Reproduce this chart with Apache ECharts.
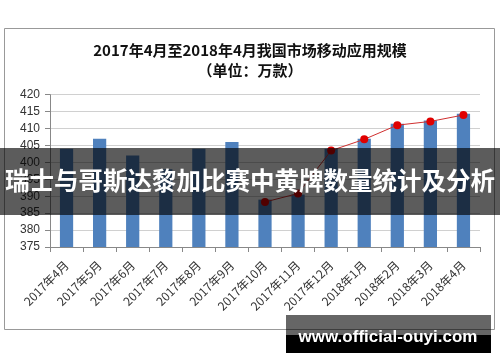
<!DOCTYPE html>
<html>
<head>
<meta charset="utf-8">
<script src="https://cdn.jsdelivr.net/npm/echarts@6/dist/echarts.min.js"></script>
<style>html,body{margin:0;padding:0;background:#fff;}#c{width:500px;height:362px;}</style>
</head>
<body>
<div id="c"></div>
<script>
const categories = ['2017年4月','2017年5月','2017年6月','2017年7月','2017年8月','2017年9月','2017年10月','2017年11月','2017年12月','2018年1月','2018年2月','2018年3月','2018年4月'];
const barValues = [404, 407, 402, 398, 404, 406, 389, 390.5, 404, 407, 411.4, 412.4, 414.4];
const lineValues = [null, null, null, null, null, null, 388.3, 390.8, 403.5, 406.8, 411, 412.1, 414];
const yTicks = {min: 375, max: 420, interval: 5};
const titleText = '2017年4月至2018年4月我国市场移动应用规模';
const subTitleText = '（单位：万款）';
const bannerText = '瑞士与哥斯达黎加比赛中黄牌数量统计及分析';
const watermarkText = 'www.official-ouyi.com';

const chart = echarts.init(document.getElementById('c'), null, {renderer: 'canvas'});
const cjk = '"Noto Sans CJK SC", "Noto Sans", sans-serif';
chart.setOption({
  animation: false,
  backgroundColor: '#fff',
  title: [
    {text: titleText, left: 'center', top: 38, textStyle: {fontFamily: cjk, fontSize: 15, fontWeight: 'bold', color: '#111'}},
    {text: subTitleText, left: 'center', top: 58, textStyle: {fontFamily: cjk, fontSize: 15, fontWeight: 'bold', color: '#111'}}
  ],
  grid: {left: 50, right: 20, top: 94.7, bottom: 115},
  xAxis: {
    type: 'category',
    data: categories,
    boundaryGap: true,
    axisLine: {lineStyle: {color: '#888'}},
    axisTick: {show: true, alignWithLabel: false, length: 5, lineStyle: {color: '#888'}},
    axisLabel: {rotate: 45, interval: 0, fontSize: 12, color: '#333', fontFamily: cjk, margin: 16}
  },
  yAxis: {
    type: 'value',
    min: yTicks.min, max: yTicks.max, interval: yTicks.interval,
    axisLine: {show: true, lineStyle: {color: '#888'}},
    axisTick: {show: true, length: 5, inside: false, lineStyle: {color: '#888'}},
    axisLabel: {fontSize: 12, color: '#333', fontFamily: '"Liberation Sans", Arial, sans-serif', margin: 10},
    splitLine: {lineStyle: {color: '#d0d0d0'}}
  },
  series: [
    {type: 'bar', data: barValues, barWidth: '40%', itemStyle: {color: '#4f81bd'}, z: 2},
    {type: 'line', data: lineValues, symbol: 'circle', symbolSize: 8, lineStyle: {color: '#d03030', width: 1}, itemStyle: {color: '#e00000'}, z: 3}
  ],
  graphic: [
    {type: 'rect', shape: {x: 4.5, y: 28.5, width: 490, height: 301}, style: {fill: null, stroke: '#999', lineWidth: 1}, z: 1},
    {type: 'rect', shape: {x: 0, y: 148, width: 500, height: 67}, style: {fill: 'rgba(0,0,0,0.64)'}, z: 100},
    {type: 'text', x: 250, y: 181, style: {text: bannerText, fill: '#fff', fontSize: 24.5, fontWeight: 'bold', fontFamily: cjk, align: 'center', verticalAlign: 'middle'}, z: 101},
    {type: 'rect', shape: {x: 286, y: 315, width: 205, height: 20}, style: {fill: 'rgba(0,0,0,0.6)'}, z: 100},
    {type: 'rect', shape: {x: 286, y: 335, width: 205, height: 18}, style: {fill: '#000'}, z: 100},
    {type: 'text', x: 388, y: 337, style: {text: watermarkText, fill: '#fff', fontSize: 17, fontWeight: 'bold', fontFamily: '"Liberation Sans", Arial, sans-serif', align: 'center', verticalAlign: 'middle'}, z: 101}
  ]
});
</script>
</body>
</html>
